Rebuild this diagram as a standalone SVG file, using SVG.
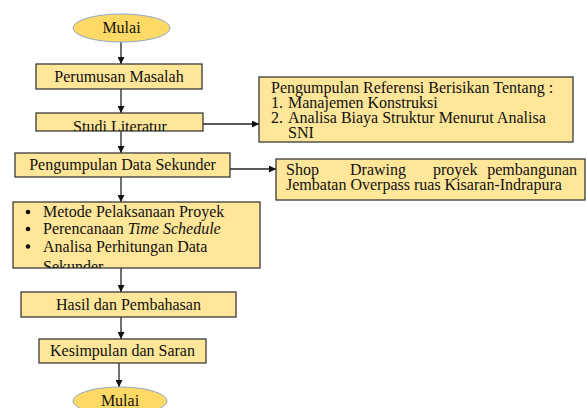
<svg xmlns="http://www.w3.org/2000/svg" width="586" height="408" viewBox="0 0 586 408">
<style>
text{font-family:"Liberation Serif","Times New Roman",serif;font-size:16px;fill:#111}
.box{fill:#FFE699;stroke:#3a3a3a;stroke-width:1.3}
.term{fill:#FFD966;stroke:#8FA8C8;stroke-width:1}
.c{text-anchor:middle}
.ln{stroke:#222;stroke-width:1.3;fill:none;marker-end:url(#ah)}
</style>
<defs>
<marker id="ah" viewBox="0 0 10 10" refX="10" refY="5" markerWidth="7" markerHeight="7" markerUnits="userSpaceOnUse" orient="auto">
<path d="M0,0 L10,5 L0,10 z" fill="#111"/>
</marker>
<clipPath id="clipStudi"><rect x="36" y="113" width="167" height="18"/></clipPath>
<clipPath id="clipBullet"><rect x="13" y="202" width="247" height="66"/></clipPath>
</defs>
<rect width="586" height="408" fill="#fff"/>
<g id="connectors">
<line class="ln" x1="121" y1="42" x2="121" y2="64"/>
<line class="ln" x1="121" y1="89" x2="121" y2="113"/>
<line class="ln" x1="121" y1="131" x2="121" y2="153"/>
<line class="ln" x1="121" y1="177" x2="121" y2="202"/>
<line class="ln" x1="121" y1="268" x2="121" y2="292"/>
<line class="ln" x1="121" y1="317" x2="121" y2="339"/>
<line class="ln" x1="119" y1="363" x2="119" y2="387"/>
<line class="ln" x1="203" y1="124" x2="259" y2="124"/>
<line class="ln" x1="230" y1="169" x2="276" y2="169"/>
</g>
<g id="start">
<ellipse class="term" cx="121.5" cy="28" rx="48.5" ry="14"/>
<text class="c" x="121.5" y="33">Mulai</text>
</g>
<g id="perumusan">
<rect class="box" x="36" y="64" width="166" height="25"/>
<text class="c" x="119" y="82">Perumusan Masalah</text>
</g>
<g id="studi">
<rect class="box" x="36" y="113" width="167" height="18"/>
<text class="c" x="120" y="132" clip-path="url(#clipStudi)">Studi Literatur</text>
</g>
<g id="referensi">
<rect class="box" x="259" y="77" width="314" height="65"/>
<text x="271" y="93">Pengumpulan Referensi Berisikan Tentang :</text>
<text x="271" y="108">1.</text><text x="288" y="108">Manajemen Konstruksi</text>
<text x="271" y="123">2.</text><text x="288" y="123">Analisa Biaya Struktur Menurut Analisa</text>
<text x="288" y="138">SNI</text>
</g>
<g id="pengumpulan">
<rect class="box" x="15" y="153" width="215" height="24"/>
<text class="c" x="122.5" y="170">Pengumpulan Data Sekunder</text>
</g>
<g id="shop">
<rect class="box" x="276" y="159" width="309" height="41"/>
<text x="286" y="175">Shop</text>
<text x="350" y="175">Drawing</text>
<text x="433" y="175">proyek</text>
<text x="577" y="175" text-anchor="end">pembangunan</text>
<text x="286" y="190">Jembatan Overpass ruas Kisaran-Indrapura</text>
</g>
<g id="metode">
<rect class="box" x="13" y="202" width="247" height="66"/>
<g clip-path="url(#clipBullet)">
<circle cx="28" cy="212" r="2.3" fill="#111"/>
<text x="43" y="217">Metode Pelaksanaan Proyek</text>
<circle cx="28" cy="229" r="2.3" fill="#111"/>
<text x="43" y="234">Perencanaan <tspan font-style="italic">Time Schedule</tspan></text>
<circle cx="28" cy="246.5" r="2.3" fill="#111"/>
<text x="43" y="251.5">Analisa Perhitungan Data</text>
<text x="43" y="272">Sekunder</text>
</g>
</g>
<g id="hasil">
<rect class="box" x="21" y="292" width="215" height="25"/>
<text class="c" x="128.5" y="310">Hasil dan Pembahasan</text>
</g>
<g id="kesimpulan">
<rect class="box" x="39" y="339" width="167" height="24"/>
<text class="c" x="122.5" y="356">Kesimpulan dan Saran</text>
</g>
<g id="end">
<ellipse class="term" cx="120" cy="401" rx="47" ry="14"/>
<text class="c" x="120" y="406">Mulai</text>
</g>
</svg>
